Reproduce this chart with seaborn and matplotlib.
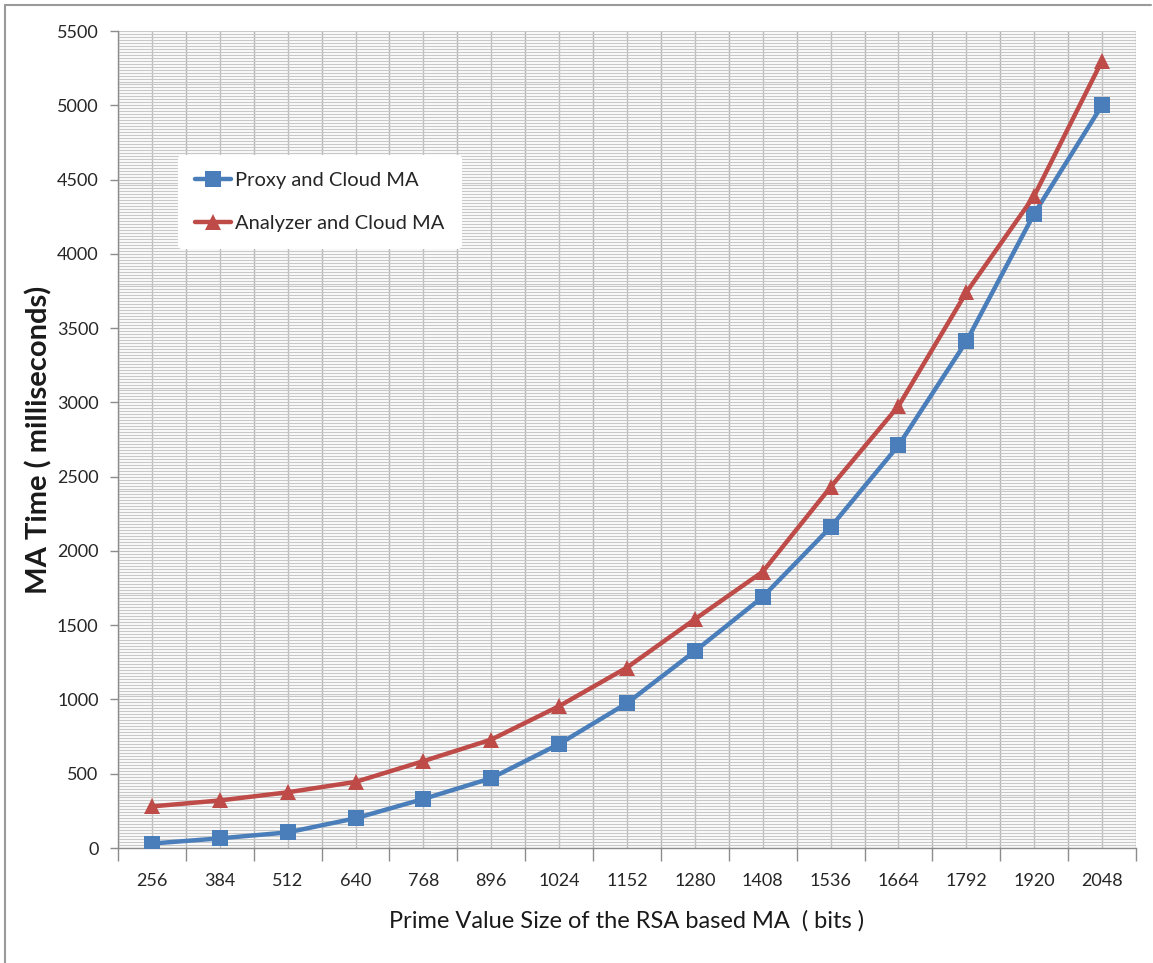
import matplotlib
matplotlib.use("Agg")
import matplotlib.pyplot as plt
from matplotlib.lines import Line2D
from matplotlib.ticker import MultipleLocator, FixedLocator
import pandas as pd
import seaborn as sns

# Prime sizes (bits) and measured MA times (ms)
prime_bits = [256, 384, 512, 640, 768, 896, 1024, 1152, 1280, 1408, 1536, 1664, 1792, 1920, 2048]
proxy_cloud = [30, 65, 105, 200, 330, 470, 700, 975, 1325, 1690, 2160, 2710, 3410, 4270, 5000]
analyzer_cloud = [280, 320, 375, 445, 585, 730, 955, 1215, 1540, 1860, 2430, 2975, 3740, 4390, 5300]
series_names = ["Proxy and Cloud MA", "Analyzer and Cloud MA"]

df = pd.concat([
    pd.DataFrame({"bits": prime_bits, "time": proxy_cloud, "series": series_names[0]}),
    pd.DataFrame({"bits": prime_bits, "time": analyzer_cloud, "series": series_names[1]}),
])

sns.set_theme(style="white")
plt.rcParams["font.family"] = ["Lato", "DejaVu Sans"]

fig = plt.figure(figsize=(11.53, 9.63), dpi=100)
ax = fig.add_axes([118 / 1153, 1 - 848 / 963, (1136 - 118) / 1153, (848 - 31) / 963])

palette = {series_names[0]: "#4a7ebb", series_names[1]: "#be4b48"}
markers = {series_names[0]: "s", series_names[1]: "^"}
sns.lineplot(data=df, x="bits", y="time", hue="series", style="series",
             palette=palette, markers=markers, dashes=False, linewidth=3.2,
             markersize=11, markeredgewidth=0, ax=ax, zorder=5)

step = 128
ax.set_xlim(prime_bits[0] - step / 2, prime_bits[-1] + step / 2)
ax.set_ylim(0, 5500)

# category centres carry labels; category boundaries carry tick marks
ax.set_xticks(prime_bits)
ax.set_xticklabels([str(b) for b in prime_bits])
bounds = [prime_bits[0] - step / 2 + step * i for i in range(len(prime_bits) + 1)]
ax.xaxis.set_minor_locator(FixedLocator(bounds))
ax.tick_params(axis="x", which="major", length=0, pad=18, labelsize=13, labelcolor="#262626")
ax.tick_params(axis="x", which="minor", length=9, width=1, color="#8c8c8c", direction="out", bottom=True)

ax.yaxis.set_major_locator(MultipleLocator(500))
ax.yaxis.set_minor_locator(MultipleLocator(20))
ax.tick_params(axis="y", which="major", length=6, width=1, color="#8c8c8c", direction="out",
               left=True, pad=8, labelsize=13, labelcolor="#262626")
ax.tick_params(axis="y", which="minor", length=0)

# dense background grid
ax.grid(True, axis="y", which="both", color="#c8c8c8", linewidth=0.9)
ax.grid(True, axis="x", which="major", color="#bdbdbd", linewidth=1.0)
ax.grid(True, axis="x", which="minor", color="#b5b5b5", linewidth=1.0)
ax.set_axisbelow(True)

for side in ["top", "right"]:
    ax.spines[side].set_visible(False)
for side in ["left", "bottom"]:
    ax.spines[side].set_color("#8c8c8c")
    ax.spines[side].set_linewidth(1.0)

ax.set_xlabel("Prime Value Size of the RSA based MA  ( bits )", fontsize=17, color="#1a1a1a", labelpad=15)
ax.set_ylabel("MA Time ( milliseconds)", fontsize=21, fontweight="bold", color="#1a1a1a", labelpad=3)

leg = ax.legend(loc="upper left", bbox_to_anchor=(0.059, 0.848), borderaxespad=0,
                frameon=True, facecolor="white", edgecolor="none", framealpha=1,
                fontsize=14.5, handlelength=1.8, handletextpad=0.2, labelspacing=1.25,
                borderpad=0.85, title=None)
leg.set_zorder(10)
for h in leg.legend_handles:
    h.set_linewidth(3.2)
    h.set_markersize(11)

# outer chart frame
fig.add_artist(Line2D([5 / 1153, 5 / 1153], [0, 1 - 5 / 963], transform=fig.transFigure, color="#9a9a9a", lw=1.5))
fig.add_artist(Line2D([5 / 1153, 1151 / 1153], [1 - 5 / 963, 1 - 5 / 963], transform=fig.transFigure, color="#9a9a9a", lw=1.5))

fig.savefig("out.png", dpi=100, facecolor="white")
